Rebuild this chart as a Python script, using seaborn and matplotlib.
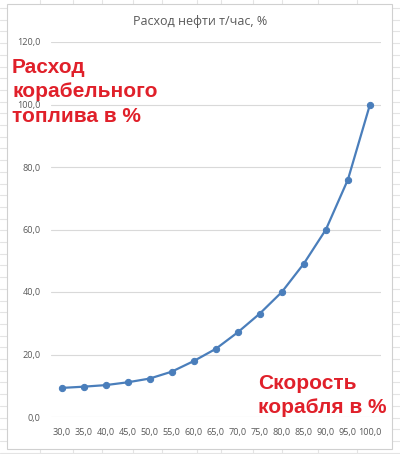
import numpy as np
import pandas as pd
import matplotlib
matplotlib.use("Agg")
import matplotlib.pyplot as plt
import seaborn as sns
from matplotlib.lines import Line2D
from matplotlib.patches import Rectangle

# Data
speed = ["30,0", "35,0", "40,0", "45,0", "50,0", "55,0", "60,0", "65,0",
         "70,0", "75,0", "80,0", "85,0", "90,0", "95,0", "100,0"]
fuel = [9.3, 9.7, 10.2, 11.1, 12.3, 14.5, 17.9, 21.8,
        27.1, 33.1, 40.0, 49.1, 60.0, 76.0, 100.0]
y_ticks = [0, 20, 40, 60, 80, 100, 120]
y_labels = ["0,0", "20,0", "40,0", "60,0", "80,0", "100,0", "120,0"]

df = pd.DataFrame({"speed": speed, "fuel": fuel})

sns.set_theme(style="white")
plt.rcParams["font.family"] = ["Open Sans", "DejaVu Sans"]

W, H = 400, 454
fig = plt.figure(figsize=(W / 100, H / 100), dpi=100)
fig.patch.set_facecolor("white")

# spreadsheet grid behind the chart object
for xv in [40, 73, 102, 133, 162, 197, 221, 253, 282, 318, 357]:
    fig.add_artist(Line2D([xv / W, xv / W], [0, 1], color="#e4e4e4", lw=0.8, zorder=-3))
for yv in np.arange(8, H, 11.7):
    fig.add_artist(Line2D([0, 1], [1 - yv / H, 1 - yv / H], color="#e4e4e4", lw=0.8, zorder=-3))

# chart area
fig.add_artist(Rectangle((7 / W, 1 - 449 / H), 385 / W, 445 / H,
                         facecolor="white", edgecolor="#d0d0d0", lw=0.8, zorder=-2))

ax = fig.add_axes([50.5 / W, 37 / H, 330.5 / W, 375 / H])
ax.set_facecolor("none")
sns.lineplot(data=df, x="speed", y="fuel", ax=ax, color="#4a7ebb",
             linewidth=1.6, marker="o", markersize=4.5,
             markeredgecolor="#4a7ebb", sort=False)

ax.set_xlim(-0.5, len(speed) - 0.5)
ax.set_ylim(0, 120)
ax.set_yticks(y_ticks)
ax.set_yticklabels(y_labels)
ax.grid(axis="y", color="#d9d9d9", lw=0.8)
ax.set_axisbelow(True)
for s in ax.spines.values():
    s.set_visible(False)
ax.tick_params(axis="both", length=0, labelsize=6.6, colors="#595959")
ax.tick_params(axis="y", pad=7)
ax.tick_params(axis="x", pad=8)
ax.set_xlabel("")
ax.set_ylabel("")

fig.text(0.5, 1 - 22 / H, "Расход нефти т/час, %", ha="center", va="center",
         fontsize=9, color="#595959")

red = "#e0202a"
fig.text(12 / W, 1 - 58 / H, "Расход\nкорабельного\nтоплива в %",
         ha="left", va="top", fontsize=15, fontweight="bold", color=red,
         family=["Liberation Sans", "DejaVu Sans"], linespacing=1.36)
fig.text(258 / W, 1 - 374 / H, "Скорость\nкорабля в %",
         ha="left", va="top", fontsize=15, fontweight="bold", color=red,
         family=["Liberation Sans", "DejaVu Sans"], linespacing=1.36)

fig.savefig("out.png", dpi=100)
